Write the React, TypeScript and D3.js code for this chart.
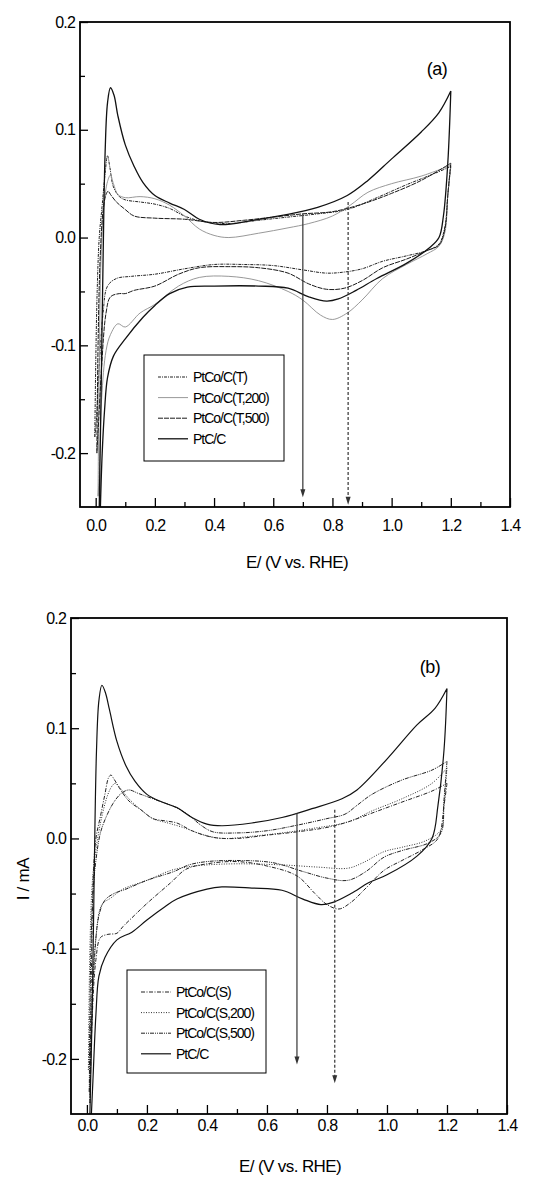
import React, { useEffect, useRef } from 'react';
import * as d3 from 'd3';

type Pt = [number, number];

// ---- panel (a) ----
const ptcA: Pt[] = [
  [0.012, -0.25], [0.018, -0.15], [0.025, -0.02], [0.032, 0.08], [0.04, 0.125], [0.05, 0.139],
  [0.062, 0.132], [0.075, 0.113], [0.1, 0.086], [0.13, 0.066], [0.16, 0.051], [0.2, 0.039],
  [0.25, 0.032], [0.3, 0.026], [0.35, 0.017], [0.42, 0.012], [0.53, 0.016], [0.64, 0.021],
  [0.75, 0.028], [0.85, 0.039], [0.92, 0.053], [1.0, 0.073], [1.1, 0.098], [1.16, 0.116], [1.2, 0.136],
  [1.19, 0.07], [1.175, 0.02], [1.16, 0.0], [1.13, -0.009], [1.05, -0.024], [0.95, -0.038],
  [0.88, -0.049], [0.82, -0.057], [0.78, -0.059], [0.72, -0.055], [0.65, -0.047], [0.55, -0.045],
  [0.4, -0.045], [0.31, -0.046], [0.25, -0.052], [0.2, -0.063], [0.16, -0.074], [0.1, -0.094],
  [0.06, -0.11], [0.04, -0.13], [0.03, -0.16], [0.022, -0.2], [0.016, -0.25],
];
const tA: Pt[] = [
  [-0.003, -0.185], [0.0, -0.12], [0.005, -0.05], [0.012, 0.0], [0.022, 0.03], [0.032, 0.06],
  [0.04, 0.076], [0.048, 0.065], [0.06, 0.047], [0.08, 0.038], [0.1, 0.035], [0.15, 0.033],
  [0.2, 0.031], [0.25, 0.027], [0.3, 0.02], [0.36, 0.015], [0.45, 0.013], [0.55, 0.016],
  [0.65, 0.019], [0.75, 0.022], [0.85, 0.026], [0.95, 0.037], [1.05, 0.049], [1.15, 0.06], [1.2, 0.066],
  [1.19, 0.04], [1.18, 0.01], [1.16, -0.006], [1.12, -0.012], [1.05, -0.017], [0.97, -0.022],
  [0.9, -0.029], [0.84, -0.032], [0.78, -0.033], [0.7, -0.03], [0.6, -0.026], [0.5, -0.025],
  [0.4, -0.025], [0.3, -0.029], [0.2, -0.034], [0.12, -0.036], [0.07, -0.038], [0.04, -0.045],
  [0.025, -0.07], [0.012, -0.12], [0.002, -0.17], [-0.003, -0.185],
];
const t200A: Pt[] = [
  [0.008, -0.24], [0.012, -0.12], [0.018, -0.02], [0.028, 0.03], [0.04, 0.052], [0.05, 0.058],
  [0.06, 0.05], [0.075, 0.04], [0.1, 0.037], [0.15, 0.038], [0.2, 0.036], [0.25, 0.03],
  [0.3, 0.02], [0.35, 0.008], [0.4, 0.002], [0.45, 0.0], [0.55, 0.004], [0.65, 0.009],
  [0.72, 0.013], [0.8, 0.02], [0.86, 0.03], [0.92, 0.042], [1.0, 0.05], [1.1, 0.057], [1.2, 0.067],
  [1.19, 0.04], [1.18, 0.005], [1.16, -0.008], [1.12, -0.015], [1.05, -0.025], [0.97, -0.038],
  [0.9, -0.058], [0.85, -0.07], [0.8, -0.076], [0.76, -0.072], [0.7, -0.058], [0.65, -0.05],
  [0.55, -0.04], [0.45, -0.036], [0.35, -0.037], [0.28, -0.045], [0.2, -0.062], [0.15, -0.07],
  [0.1, -0.083], [0.075, -0.08], [0.05, -0.09], [0.035, -0.105], [0.02, -0.15], [0.012, -0.22], [0.008, -0.24],
];
const t500A: Pt[] = [
  [0.004, -0.2], [0.008, -0.1], [0.015, -0.02], [0.025, 0.025], [0.035, 0.04], [0.042, 0.043],
  [0.05, 0.04], [0.07, 0.033], [0.1, 0.026], [0.13, 0.02], [0.2, 0.018], [0.3, 0.017],
  [0.4, 0.014], [0.5, 0.016], [0.6, 0.019], [0.7, 0.022], [0.8, 0.024], [0.9, 0.031],
  [1.0, 0.041], [1.1, 0.053], [1.2, 0.069],
  [1.19, 0.04], [1.18, 0.008], [1.16, -0.007], [1.12, -0.012], [1.05, -0.02], [0.97, -0.028],
  [0.9, -0.04], [0.84, -0.047], [0.78, -0.048], [0.72, -0.043], [0.65, -0.033], [0.55, -0.028],
  [0.45, -0.027], [0.35, -0.028], [0.28, -0.034], [0.2, -0.045], [0.13, -0.049], [0.1, -0.052],
  [0.08, -0.052], [0.05, -0.055], [0.035, -0.07], [0.02, -0.12], [0.01, -0.17], [0.004, -0.2],
];

// ---- panel (b) ----
const ptcB: Pt[] = [
  [0.01, -0.25], [0.018, -0.15], [0.025, -0.02], [0.032, 0.08], [0.04, 0.125], [0.05, 0.139],
  [0.062, 0.132], [0.075, 0.117], [0.1, 0.088], [0.13, 0.066], [0.16, 0.052], [0.2, 0.04],
  [0.25, 0.033], [0.3, 0.028], [0.35, 0.019], [0.4, 0.013], [0.45, 0.0115], [0.55, 0.014],
  [0.65, 0.019], [0.75, 0.027], [0.85, 0.036], [0.9, 0.044], [1.0, 0.072], [1.1, 0.103],
  [1.16, 0.118], [1.2, 0.136],
  [1.19, 0.08], [1.17, 0.03], [1.15, 0.0], [1.1, -0.016], [1.0, -0.033], [0.94, -0.04],
  [0.88, -0.05], [0.82, -0.058], [0.78, -0.06], [0.72, -0.055], [0.65, -0.047], [0.55, -0.045],
  [0.45, -0.044], [0.4, -0.046], [0.3, -0.055], [0.26, -0.062], [0.2, -0.074], [0.15, -0.085],
  [0.1, -0.092], [0.06, -0.108], [0.04, -0.125], [0.03, -0.16], [0.02, -0.22], [0.015, -0.25],
];
const sB: Pt[] = [
  [0.01, -0.24], [0.015, -0.12], [0.022, -0.03], [0.03, 0.0], [0.045, 0.02], [0.06, 0.04],
  [0.072, 0.055], [0.08, 0.0575], [0.09, 0.054], [0.11, 0.045], [0.14, 0.034], [0.18, 0.026],
  [0.22, 0.018], [0.26, 0.016], [0.3, 0.014], [0.35, 0.007], [0.42, 0.001], [0.5, 0.0],
  [0.6, 0.003], [0.7, 0.006], [0.8, 0.01], [0.87, 0.015], [0.95, 0.023], [1.05, 0.033],
  [1.15, 0.043], [1.2, 0.05],
  [1.19, 0.03], [1.17, 0.0], [1.12, -0.01], [1.05, -0.02], [0.99, -0.029], [0.93, -0.045],
  [0.88, -0.058], [0.84, -0.064], [0.8, -0.06], [0.76, -0.05], [0.7, -0.034], [0.6, -0.025],
  [0.5, -0.021], [0.4, -0.023], [0.33, -0.028], [0.28, -0.04], [0.2, -0.059], [0.15, -0.072],
  [0.12, -0.08], [0.1, -0.086], [0.07, -0.087], [0.045, -0.09], [0.03, -0.11], [0.018, -0.16], [0.01, -0.24],
];
const s200B: Pt[] = [
  [0.005, -0.21], [0.01, -0.1], [0.018, -0.04], [0.03, -0.01], [0.05, 0.02], [0.07, 0.04],
  [0.085, 0.048], [0.095, 0.05], [0.11, 0.046], [0.14, 0.036], [0.18, 0.026], [0.22, 0.018],
  [0.27, 0.014], [0.32, 0.01], [0.38, 0.004], [0.45, 0.0], [0.55, 0.002], [0.65, 0.005],
  [0.75, 0.009], [0.87, 0.015], [0.95, 0.025], [1.05, 0.036], [1.15, 0.05], [1.2, 0.064],
  [1.19, 0.03], [1.18, 0.008], [1.13, -0.002], [1.05, -0.008], [0.99, -0.012], [0.92, -0.022],
  [0.87, -0.027], [0.77, -0.026], [0.65, -0.024], [0.5, -0.023], [0.4, -0.024], [0.33, -0.026],
  [0.28, -0.029], [0.2, -0.038], [0.12, -0.046], [0.08, -0.054], [0.05, -0.06], [0.03, -0.09],
  [0.015, -0.15], [0.005, -0.21],
];
const s500B: Pt[] = [
  [0.008, -0.23], [0.012, -0.12], [0.02, -0.05], [0.03, -0.02], [0.045, 0.005], [0.065, 0.02],
  [0.09, 0.033], [0.115, 0.041], [0.14, 0.044], [0.17, 0.041], [0.2, 0.038], [0.25, 0.033],
  [0.29, 0.029], [0.34, 0.021], [0.38, 0.012], [0.42, 0.006], [0.5, 0.005], [0.6, 0.007],
  [0.7, 0.012], [0.8, 0.018], [0.86, 0.022], [0.9, 0.03], [0.95, 0.04], [1.05, 0.053],
  [1.15, 0.062], [1.2, 0.07],
  [1.19, 0.035], [1.18, 0.005], [1.14, -0.004], [1.05, -0.011], [0.99, -0.017], [0.93, -0.03],
  [0.87, -0.038], [0.8, -0.036], [0.72, -0.03], [0.62, -0.022], [0.5, -0.02], [0.4, -0.021],
  [0.34, -0.024], [0.29, -0.03], [0.2, -0.038], [0.13, -0.046], [0.09, -0.05], [0.06, -0.056],
  [0.04, -0.07], [0.025, -0.11], [0.015, -0.17], [0.008, -0.23],
];

const labelsA = ['PtCo/C(T)', 'PtCo/C(T,200)', 'PtCo/C(T,500)', 'PtC/C'];
const labelsB = ['PtCo/C(S)', 'PtCo/C(S,200)', 'PtCo/C(S,500)', 'PtC/C'];

const xMajor = [0, 0.2, 0.4, 0.6, 0.8, 1.0, 1.2, 1.4];
const xMinor = [0.1, 0.3, 0.5, 0.7, 0.9, 1.1, 1.3];
const yMajor = [-0.2, -0.1, 0.0, 0.1, 0.2];
const yMinor = [-0.15, -0.05, 0.05, 0.15];

// arrows: [E, I start, I tip]
const arrowsA: [number, number, number][] = [[0.70, 0.022, -0.241], [0.853, 0.033, -0.248]];
const arrowsB: [number, number, number][] = [[0.70, 0.023, -0.205], [0.826, 0.026, -0.222]];

const FONT = 'Arial, "Liberation Sans", sans-serif';

type Style = { color: string; width: number; dash: string | null };
const stylesA: Style[] = [
  { color: '#222', width: 1, dash: '3,1,1,1' },
  { color: '#8c8c8c', width: 0.9, dash: null },
  { color: '#1a1a1a', width: 1, dash: '5,1' },
  { color: '#111', width: 1.3, dash: null },
];
const stylesB: Style[] = [
  { color: '#222', width: 1, dash: '4,1.5,1,1.5' },
  { color: '#333', width: 1, dash: '1,1.5' },
  { color: '#222', width: 1, dash: '4,1,1,1,1,1' },
  { color: '#111', width: 1.2, dash: null },
];

type Panel = {
  id: string;
  left: number; right: number; top: number; bottom: number;
  series: Pt[][];
  styles: Style[];
  labels: string[];
  legend: { x: number; y: number; w: number; h: number };
  tag: string; tagX: number; tagY: number;
  arrows: [number, number, number][];
  xPad: number; titleX: number; titleY: number;
};

function drawPanel(svg: d3.Selection<SVGSVGElement, unknown, null, undefined>, p: Panel) {
  const x = d3.scaleLinear().domain([-0.053, 1.4]).range([p.left, p.right]);
  const y = d3.scaleLinear().domain([-0.25, 0.2]).range([p.bottom, p.top]);
  const fmt = (d: d3.NumberValue) => (+d).toFixed(1);

  svg.append('defs').append('clipPath').attr('id', 'clip-' + p.id)
    .append('rect')
    .attr('x', p.left).attr('y', p.top)
    .attr('width', p.right - p.left).attr('height', p.bottom - p.top);

  const line = d3.line<Pt>()
    .x(d => x(d[0]))
    .y(d => y(d[1]))
    .curve(d3.curveCatmullRom.alpha(0.5));

  const curves = svg.append('g').attr('clip-path', `url(#clip-${p.id})`);
  p.series.forEach((s, i) => {
    const st = p.styles[i];
    // anodic and cathodic sweeps drawn separately so the turn at 1.2 V stays sharp
    const k = d3.maxIndex(s, d => d[0]);
    const d = (line(s.slice(0, k + 1)) || '') + (line(s.slice(k)) || '');
    curves.append('path')
      .attr('d', d)
      .attr('fill', 'none')
      .attr('stroke', st.color)
      .attr('stroke-width', st.width)
      .attr('stroke-dasharray', st.dash)
      .attr('stroke-linejoin', 'round');
  });

  // arrows
  p.arrows.forEach(([e, i0, i1], k) => {
    const ax = x(e);
    const tip = y(i1);
    svg.append('line')
      .attr('x1', ax).attr('x2', ax)
      .attr('y1', y(i0)).attr('y2', tip - 6)
      .attr('stroke', '#333')
      .attr('stroke-width', 1.2)
      .attr('stroke-dasharray', k === 1 ? '3,2' : null);
    svg.append('path')
      .attr('d', `M${ax - 2.5},${tip - 8} L${ax},${tip} L${ax + 2.5},${tip - 8} Z`)
      .attr('fill', '#333');
  });

  // axes
  const xAxis = svg.append('g')
    .attr('transform', `translate(0,${p.bottom})`)
    .call(d3.axisBottom(x).tickValues(xMajor).tickSize(-9).tickPadding(p.xPad).tickFormat(fmt));
  svg.append('g')
    .attr('transform', `translate(0,${p.bottom})`)
    .call(d3.axisBottom(x).tickValues(xMinor).tickSize(-5).tickFormat(() => ''))
    .call(g => g.select('.domain').remove());
  const yAxis = svg.append('g')
    .attr('transform', `translate(${p.left},0)`)
    .call(d3.axisLeft(y).tickValues(yMajor).tickSize(-8).tickPadding(5).tickFormat(fmt));
  svg.append('g')
    .attr('transform', `translate(${p.left},0)`)
    .call(d3.axisLeft(y).tickValues(yMinor).tickSize(-5).tickFormat(() => ''))
    .call(g => g.select('.domain').remove());

  [xAxis, yAxis].forEach(a => {
    a.select('.domain').remove();
    a.selectAll('text')
      .attr('fill', '#000')
      .style('font-family', FONT)
      .style('font-size', '16px')
      .style('letter-spacing', '-0.8px');
  });
  svg.selectAll('.tick line').attr('stroke', '#000').attr('stroke-width', 1.3);

  // frame
  svg.append('rect')
    .attr('x', p.left).attr('y', p.top)
    .attr('width', p.right - p.left).attr('height', p.bottom - p.top)
    .attr('fill', 'none').attr('stroke', '#000').attr('stroke-width', 1.8);

  // legend
  const lg = svg.append('g').attr('transform', `translate(${p.legend.x},${p.legend.y})`);
  lg.append('rect')
    .attr('width', p.legend.w).attr('height', p.legend.h)
    .attr('fill', '#fff').attr('stroke', '#000').attr('stroke-width', 1);
  p.labels.forEach((lab, i) => {
    const st = p.styles[i];
    const ly = 22 + i * 20.6;
    lg.append('line')
      .attr('x1', 14).attr('x2', 44).attr('y1', ly).attr('y2', ly)
      .attr('stroke', st.color)
      .attr('stroke-width', st.width)
      .attr('stroke-dasharray', st.dash);
    lg.append('text')
      .attr('x', 49).attr('y', ly + 5)
      .style('font-family', FONT)
      .style('font-size', '14px')
      .style('letter-spacing', '-1px')
      .text(lab);
  });

  // panel tag
  svg.append('text')
    .attr('x', p.tagX).attr('y', p.tagY)
    .attr('text-anchor', 'middle')
    .style('font-family', FONT)
    .style('font-size', '18px')
    .style('letter-spacing', '-0.5px')
    .text(p.tag);

  // x title
  svg.append('text')
    .attr('x', p.titleX).attr('y', p.titleY)
    .attr('text-anchor', 'middle')
    .style('font-family', FONT)
    .style('font-size', '17px')
    .style('letter-spacing', '-0.6px')
    .text('E/ (V vs. RHE)');
}

export default function App() {
  const ref = useRef<SVGSVGElement>(null);

  useEffect(() => {
    const svg = d3.select(ref.current!);
    svg.selectAll('*').remove();

    drawPanel(svg, {
      id: 'a', left: 80, right: 510, top: 22, bottom: 507,
      series: [tA, t200A, t500A, ptcA],
      styles: stylesA,
      labels: labelsA,
      legend: { x: 144, y: 355, w: 140, h: 106 },
      tag: '(a)', tagX: 437, tagY: 75,
      arrows: arrowsA,
      xPad: 13, titleX: 297, titleY: 568,
    });
    drawPanel(svg, {
      id: 'b', left: 71, right: 507, top: 618, bottom: 1114,
      series: [sB, s200B, s500B, ptcB],
      styles: stylesB,
      labels: labelsB,
      legend: { x: 127, y: 970, w: 139, h: 103 },
      tag: '(b)', tagX: 430, tagY: 673,
      arrows: arrowsB,
      xPad: 6, titleX: 290, titleY: 1172,
    });

    svg.append('text')
      .attr('transform', 'translate(29,879) rotate(-90)')
      .attr('text-anchor', 'middle')
      .style('font-family', FONT)
      .style('font-size', '17px')
      .style('letter-spacing', '-0.3px')
      .text('I / mA');
  }, []);

  return (
    <div style={{ position: 'absolute', left: 0, top: 0 }}>
      <svg ref={ref} width={541} height={1178} style={{ display: 'block', background: '#fff' }} />
    </div>
  );
}
